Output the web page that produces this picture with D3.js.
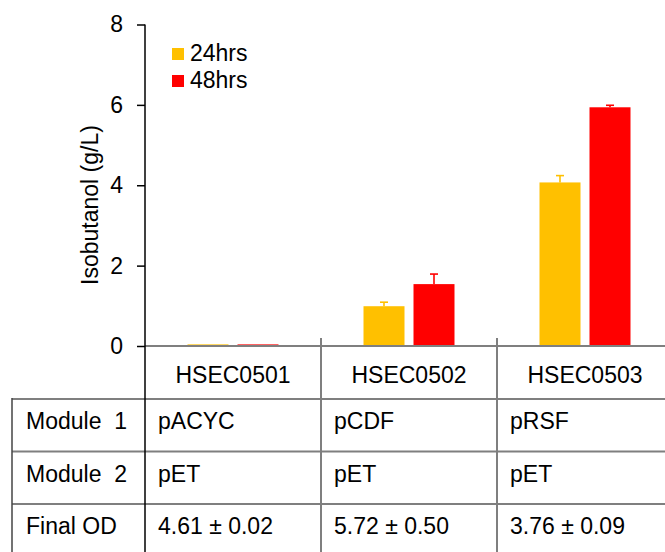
<!DOCTYPE html>
<html>
<head>
<meta charset="utf-8">
<script src="https://cdn.jsdelivr.net/npm/d3@7"></script>
<style>
  html, body { margin: 0; padding: 0; background: #fff; }
  svg { display: block; font-family: "Liberation Sans", Arial, sans-serif; }
  text { white-space: pre; fill: #000; }
</style>
</head>
<body>
<svg id="chart" width="665" height="552"></svg>
<script>
// Strains and measured isobutanol titres (g/L)
const categories = ["HSEC0501", "HSEC0502", "HSEC0503"];
const seriesNames = ["24hrs", "48hrs"];
const values24 = [0.04, 0.99, 4.07];
const values48 = [0.04, 1.54, 5.94];
const err24 = [0, 0.10, 0.17];
const err48 = [0, 0.25, 0.05];
const yTicks = [0, 2, 4, 6, 8];

// Table rows below the chart
const rowLabels = ["Module  1", "Module  2", "Final OD"];
const module1 = ["pACYC", "pCDF", "pRSF"];
const module2 = ["pET", "pET", "pET"];
const finalOD = ["4.61 \u00B1 0.02", "5.72 \u00B1 0.50", "3.76 \u00B1 0.09"];

const colors = { "24hrs": "#FFC000", "48hrs": "#FF0000" };
const gridGray = "#7f7f7f";
const FS = 23;

const svg = d3.select("#chart");
const W = 665, H = 552;

const plotLeft = 145, plotBottom = 346, plotTop = 24.5;
const groupW = 176;

const y = d3.scaleLinear().domain([0, 8]).range([plotBottom, plotTop]);
const x0 = d3.scaleBand().domain(categories)
  .range([plotLeft, plotLeft + groupW * categories.length]).padding(0);
const x1 = d3.scaleBand().domain(seriesNames)
  .range([42.5, 133.5]).paddingInner(0.18).paddingOuter(0);

const rows = categories.map((c, i) => ({
  cat: c,
  items: [
    { s: "24hrs", v: values24[i], e: err24[i] },
    { s: "48hrs", v: values48[i], e: err48[i] }
  ]
}));

// Bars
const g = svg.selectAll("g.grp").data(rows).join("g")
  .attr("class", "grp")
  .attr("transform", d => `translate(${x0(d.cat)},0)`);

g.selectAll("rect").data(d => d.items).join("rect")
  .attr("x", d => x1(d.s))
  .attr("width", x1.bandwidth())
  .attr("y", d => y(d.v))
  .attr("height", d => y(0) - y(d.v))
  .attr("fill", d => colors[d.s]);

// Upper error bars
const eb = g.selectAll("g.err").data(d => d.items.filter(it => it.e > 0)).join("g")
  .attr("class", "err");
eb.append("line")
  .attr("x1", d => x1(d.s) + x1.bandwidth() / 2)
  .attr("x2", d => x1(d.s) + x1.bandwidth() / 2)
  .attr("y1", d => y(d.v))
  .attr("y2", d => y(d.v + d.e))
  .attr("stroke", d => colors[d.s]).attr("stroke-width", 1.6);
eb.append("line")
  .attr("x1", d => x1(d.s) + x1.bandwidth() / 2 - 4)
  .attr("x2", d => x1(d.s) + x1.bandwidth() / 2 + 4)
  .attr("y1", d => y(d.v + d.e))
  .attr("y2", d => y(d.v + d.e))
  .attr("stroke", d => colors[d.s]).attr("stroke-width", 1.6);

// Y axis
const yAxis = d3.axisLeft(y).tickValues(yTicks).tickSize(8).tickPadding(14)
  .tickFormat(d3.format("d"));
const ya = svg.append("g").attr("transform", `translate(${plotLeft},0)`).call(yAxis);
ya.select(".domain").remove();
ya.selectAll(".tick line").attr("stroke", "#000").attr("stroke-width", 1.5);
ya.selectAll(".tick text").attr("font-size", FS).attr("font-family", "Liberation Sans, Arial, sans-serif")
  .attr("fill", "#000");

// Axis title
svg.append("text")
  .attr("transform", `translate(98,205) rotate(-90)`)
  .attr("text-anchor", "middle")
  .attr("font-size", FS)
  .text("Isobutanol (g/L)");

// Table grid
const tableLeft = 12;
const hLines = [399, 451.5, 504];
svg.append("line").attr("x1", plotLeft).attr("x2", W).attr("y1", plotBottom).attr("y2", plotBottom)
  .attr("stroke", gridGray).attr("stroke-width", 2);
hLines.forEach(yy => {
  svg.append("line").attr("x1", tableLeft).attr("x2", W).attr("y1", yy).attr("y2", yy)
    .attr("stroke", gridGray).attr("stroke-width", 2);
});
categories.slice(1).forEach(c => {
  svg.append("line").attr("x1", x0(c)).attr("x2", x0(c)).attr("y1", 338).attr("y2", H)
    .attr("stroke", gridGray).attr("stroke-width", 2);
});
svg.append("line").attr("x1", tableLeft).attr("x2", tableLeft).attr("y1", 398).attr("y2", H)
  .attr("stroke", "#444").attr("stroke-width", 1.5);
// Vertical axis line, continuing down through the table
svg.append("line").attr("x1", plotLeft).attr("x2", plotLeft).attr("y1", plotTop).attr("y2", H)
  .attr("stroke", "#000").attr("stroke-width", 1.5);

// Category labels
svg.selectAll("text.cat").data(categories).join("text")
  .attr("class", "cat")
  .attr("x", d => x0(d) + x0.bandwidth() / 2)
  .attr("y", 383)
  .attr("text-anchor", "middle")
  .attr("font-size", FS)
  .text(d => d);

// Table rows
const rowBase = [429, 481.5, 534];
const rowData = [module1, module2, finalOD];
rowLabels.forEach((lab, r) => {
  svg.append("text").attr("x", 26).attr("y", rowBase[r]).attr("font-size", FS).text(lab);
  svg.selectAll(`text.r${r}`).data(rowData[r]).join("text")
    .attr("class", `r${r}`)
    .attr("x", (d, i) => x0(categories[i]) + 13)
    .attr("y", rowBase[r])
    .attr("font-size", FS)
    .text(d => d);
});

// Legend
const legend = svg.append("g");
seriesNames.forEach((s, i) => {
  legend.append("rect").attr("x", 172).attr("y", 48 + i * 27).attr("width", 12).attr("height", 12)
    .attr("fill", colors[s]);
  legend.append("text").attr("x", 190).attr("y", 61 + i * 27).attr("font-size", FS).text(s);
});
</script>
</body>
</html>
